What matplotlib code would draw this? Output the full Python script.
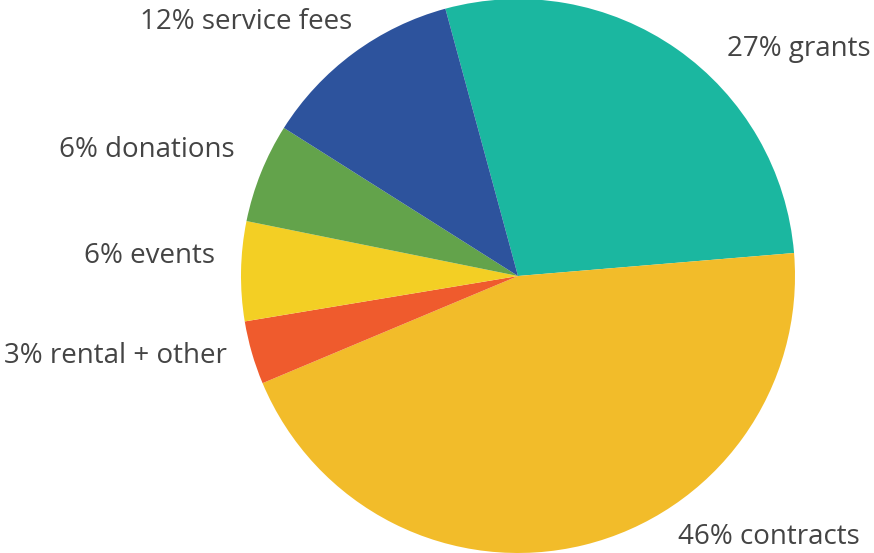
import matplotlib
matplotlib.use("Agg")
import matplotlib.pyplot as plt

categories = ["grants", "contracts", "rental + other", "events", "donations", "service fees"]
labels = ["27% grants", "46% contracts", "3% rental + other", "6% events", "6% donations", "12% service fees"]
values = [27.9, 45.0, 3.7, 5.8, 5.8, 11.8]
colors = ["#1bb7a0", "#f2bc2a", "#ef5b2d", "#f3cf24", "#63a34b", "#2d539d"]

W, H = 874, 553
fig = plt.figure(figsize=(W / 100, H / 100), dpi=100)
ax = fig.add_axes([0, 0, 1, 1])

cx, cy, r = 518, H - 276, 277
ax.pie(values, colors=colors, startangle=105.2, counterclock=False,
       center=(cx, cy), radius=r, frame=True,
       wedgeprops=dict(linewidth=0))
ax.set_xlim(0, W)
ax.set_ylim(0, H)
ax.set_aspect("equal")
ax.axis("off")

label_pos = {
    "grants": (727, 49, "left"),
    "contracts": (678, 537, "left"),
    "rental + other": (227, 356, "right"),
    "events": (215, 256, "right"),
    "donations": (235, 150, "right"),
    "service fees": (352, 22, "right"),
}
for c, lab in zip(categories, labels):
    x, y, ha = label_pos[c]
    ax.text(x, H - y, lab, ha=ha, va="center", fontsize=20,
            family="Open Sans", color="#444444")

fig.savefig("out.png", dpi=100)
